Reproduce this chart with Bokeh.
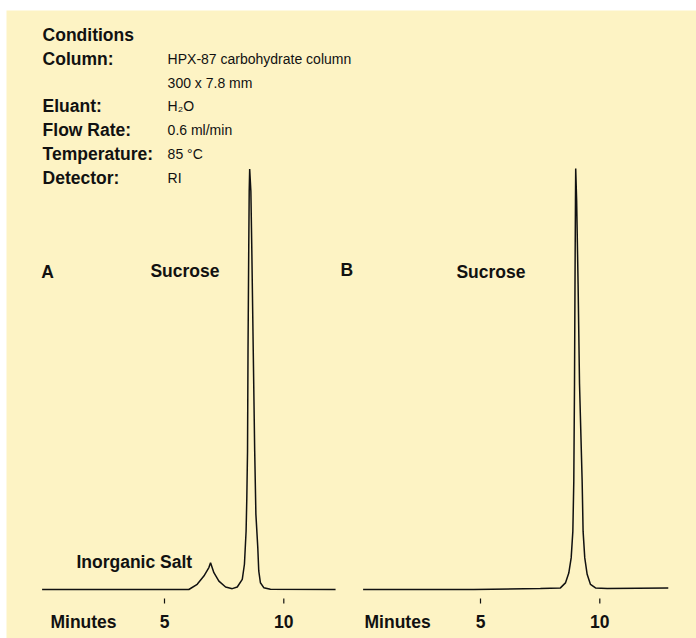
from bokeh.plotting import figure
from bokeh.layouts import row, column
from bokeh.models import Label, Range1d, Spacer
from bokeh.core.properties import value
from bokeh.embed import file_html
from bokeh.resources import INLINE


# Cromatograma A (muestra con sal inorganica), minutos vs señal relativa
tiempo_a = [-0.13, 6.02, 6.37, 6.65, 6.86, 6.93, 7.07, 7.28, 7.56, 7.84, 8.05, 8.26,
            8.35, 8.42, 8.45, 8.48, 8.50, 8.53, 8.55, 8.57, 8.62, 8.66, 8.72, 8.78,
            8.83, 8.91, 8.95, 9.02, 9.16, 9.44, 12.17]
senal_a = [0, 0, 1.24, 3.2, 5.2, 6.37, 4.0, 2.0, 0.6, 0.2, 0.6, 2.4,
           6.0, 13.9, 21.8, 32.9, 56.5, 80.4, 94.6, 99.9, 94.6, 80.4, 56.5, 32.9,
           17.9, 9.9, 4.4, 1.6, 0.43, 0.05, 0]

# Cromatograma B (sacarosa sola)
tiempo_b = [0.08, 4.72, 7.51, 8.35, 8.56, 8.70, 8.80, 8.87, 8.91, 8.94, 8.96, 8.98,
            8.99, 9.03, 9.09, 9.15, 9.26, 9.30, 9.37, 9.47, 9.61, 9.82, 10.31, 12.87]
senal_b = [0, 0, 0.24, 0.38, 1.57, 3.9, 7.5, 13.8, 25.7, 48.8, 72.5, 92.2,
           100, 92.2, 72.5, 48.8, 25.7, 13.8, 7.5, 3.6, 1.2, 0.38, 0.24, 0.38]

ticks_minutos = [5, 10]

condiciones = ["Column:", "", "Eluant:", "Flow Rate:", "Temperature:", "Detector:"]
valores = ["HPX-87 carbohydrate column", "300 x 7.8 mm", "H\u2082O", "0.6 ml/min", "85 \u00b0C", "RI"]

FONDO = "#fdf3c4"
NEGRO = "#111111"
FUENTE = "Liberation Sans"

PX_MIN = 23.86     # pixeles por minuto
PX_UNIDAD = 4.21   # pixeles por unidad de señal
ANCHO = 690
ALTO = 628
Y0 = -11.64
X0_A = -1.622      # inicio del eje de minutos del panel A
X0_B = -14.866     # inicio del eje de minutos del panel B


def etiqueta(p, x, y, texto, rango="default", bold=True, size="17.5px"):
    p.add_layout(Label(x=x, y=y, text=texto, x_range_name=rango,
                       text_font=FUENTE, text_font_size=size,
                       text_font_style="bold" if bold else "normal",
                       text_color=NEGRO, text_align="left", text_baseline="middle"))


def cromatograma(p, tiempo, senal, rango):
    # marcas del eje de minutos
    n = len(ticks_minutos)
    p.segment(x0=ticks_minutos, y0=[-2.14] * n, x1=ticks_minutos, y1=[-3.33] * n,
              line_color=NEGRO, line_width=1.2, x_range_name=rango)
    p.text(x=ticks_minutos, y=[-7.72] * n, text=[str(t) for t in ticks_minutos],
           text_font=value(FUENTE), text_font_style="bold", text_font_size="17.5px",
           text_color=NEGRO, text_align="center", text_baseline="middle",
           x_range_name=rango)
    p.line(tiempo, senal, line_color=NEGRO, line_width=1.5, x_range_name=rango)


p = figure(width=ANCHO, height=ALTO, output_backend="svg", toolbar_location=None,
           x_range=Range1d(X0_A, X0_A + ANCHO / PX_MIN),
           y_range=Range1d(Y0, Y0 + ALTO / PX_UNIDAD),
           x_axis_location=None, y_axis_location=None, min_border=0)
p.extra_x_ranges = {"b": Range1d(X0_B, X0_B + ANCHO / PX_MIN)}
p.background_fill_color = FONDO
p.border_fill_color = FONDO
p.outline_line_color = None
p.xgrid.visible = False
p.ygrid.visible = False

cromatograma(p, tiempo_a, senal_a, "default")
cromatograma(p, tiempo_b, senal_b, "b")

# bloque de condiciones
etiqueta(p, -0.11, 131.8, "Conditions")
for i, (c, v) in enumerate(zip(condiciones, valores)):
    y = 126.0 - 5.63 * i
    if c:
        etiqueta(p, -0.11, y, c)
    etiqueta(p, 5.13, y, v, bold=False, size="14px")

etiqueta(p, -0.17, 75.4, "A")
etiqueta(p, 4.41, 75.6, "Sucrose")
etiqueta(p, 1.31, 6.5, "Inorganic Salt")
etiqueta(p, 0.22, -7.77, "Minutes")

etiqueta(p, -0.87, 76.0, "B", rango="b")
etiqueta(p, 3.99, 75.4, "Sucrose", rango="b")
etiqueta(p, 0.14, -7.77, "Minutes", rango="b")

layout = column(Spacer(width=696, height=10), row(Spacer(width=6, height=ALTO), p))
open("out.html", "w").write(file_html(layout, INLINE))
